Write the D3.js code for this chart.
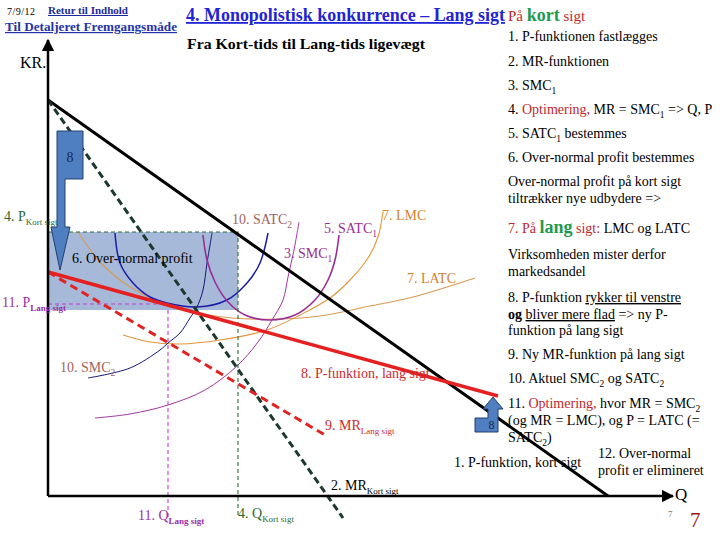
<!DOCTYPE html>
<html><head><meta charset="utf-8">
<script src="https://cdn.jsdelivr.net/npm/d3@7"></script>
<style>
body{margin:0;background:#fff;}
svg{display:block;}
text{font-family:"Liberation Serif","Times New Roman",serif;}
</style></head>
<body>
<svg id="c" width="720" height="540"></svg>
<script>
// ---- Data (Q = quantity units, P = price units) ----
const demandShort = [[0, 99], [112, 0]];            // 1. P-funktion, kort sigt
const mrShort     = [[0, 99], [59, -5.5]];          // 2. MR kort sigt
const demandLong  = [[0, 56], [90, 25]];            // 8. P-funktion, lang sigt
const mrLong      = [[0, 56], [55.4, 15.25]];       // 9. MR lang sigt
const satc2 = [[13.4,65.75],[14.4,58.25],[17,53.25],[20.4,49.75],[23.8,48.25],[29.8,47.25],[35.8,49],[39.8,53.25],[42.4,58.25],[44,65.75]];
const smc2  = [[8,29.5],[16.4,32],[22.4,36.5],[24,38.25],[26.4,40.75],[28.4,44.5],[29.8,47.25],[31,51.5],[31.8,58.25],[32.4,62.75],[32.8,65.75]];
const satc1 = [[31,65.25],[31.8,59],[33.4,53.5],[36,48.5],[39.4,45.25],[44.4,44],[49.4,45.25],[53.4,49],[56,54],[57.4,59],[58.2,65.25]];
const smc1  = [[9.4,19.5],[16.4,20.5],[24,22.75],[31.4,26.5],[37.8,32.5],[42,38.5],[44.8,44],[47,49],[48,54.75],[49.2,61.5],[50.2,68.5]];
const lmc   = [[15,40.25],[20.4,38.5],[26.4,38],[34.4,39],[43.8,41.5],[50.4,45.25],[56.4,49.5],[60.4,54],[64,59.5],[66,64.75],[67,71]];
const latc  = [[6,66],[10.4,58.5],[16.4,52.25],[24,47.75],[32.4,45.2],[42.4,44.2],[54.4,45],[64.4,47.5],[73,49.75],[85.4,54.5]];
const pShort = 66, qShort = 38, satcAtQShort = 46.5;
const pLong = 48, qLong = 24;
const axisQmax = 125, axisPmax = 114, axisPmin = -5.5;
// Shift arrows (decorative)
const arrowDown = [[1.8,91.25],[7,91.25],[7,79.25],[3.4,79.25],[3.4,67.25],[4.4,67.25],[2.4,56.5],[0.6,67.25],[1.8,67.25]];
const arrowUp   = [[85.4,19.5],[88,19.5],[88,21.75],[87,21.75],[89,24.75],[91,21.75],[90,21.75],[90,16],[85.4,16]];

const notes = [
  [41,  [{t:"1. P-funktionen fastlægges"}]],
  [66,  [{t:"2. MR-funktionen"}]],
  [90,  [{t:"3. SMC"},{t:"1",sub:1}]],
  [114, [{t:"4. "},{t:"Optimering,",c:"#c0282c"},{t:" MR = SMC"},{t:"1",sub:1},{t:" => Q, P"}]],
  [138, [{t:"5. SATC"},{t:"1",sub:1},{t:" bestemmes"}]],
  [162, [{t:"6. Over-normal profit bestemmes"}]],
  [186, [{t:"Over-normal profit på kort sigt"}]],
  [203, [{t:"tiltrækker nye udbydere =>"}]],
  [233, [{t:"7. På ",c:"#c0282c"},{t:"lang",c:"#1f9a4f",b:1,fs:18},{t:" sigt:",c:"#c0282c"},{t:"  LMC og LATC"}]],
  [259, [{t:"Virksomheden mister derfor"}]],
  [276, [{t:"markedsandel"}]],
  [302, [{t:"8. P-funktion "},{t:"rykker til venstre",u:1}]],
  [319, [{t:"og",b:1},{t:" "},{t:"bliver mere flad",u:1},{t:" => ny P-"}]],
  [335, [{t:"funktion på lang sigt"}]],
  [359, [{t:"9. Ny MR-funktion på lang sigt"}]],
  [383, [{t:"10. Aktuel SMC"},{t:"2",sub:1},{t:" og SATC"},{t:"2",sub:1}]],
  [408, [{t:"11. "},{t:"Optimering,",c:"#c0282c"},{t:" hvor MR = SMC"},{t:"2",sub:1}]],
  [425, [{t:"(og MR = LMC), og P = LATC (="}]],
  [442, [{t:"SATC"},{t:"2",sub:1},{t:")"}]]
];

// ---- Scales ----
const x = d3.scaleLinear().domain([0, 124.8]).range([48, 672]);
const y = d3.scaleLinear().domain([0, 100]).range([496, 96]);

const svg = d3.select("#c");
const line = d3.line().x(d=>x(d[0])).y(d=>y(d[1]));
const curve = d3.line().x(d=>x(d[0])).y(d=>y(d[1])).curve(d3.curveCatmullRom.alpha(0.5));

function rich(sel, segs, size){
  const t = sel;
  let shifted = false;
  segs.forEach(s=>{
    const sp = t.append("tspan").text(s.t);
    if (s.c) sp.attr("fill", s.c);
    if (s.b) sp.attr("font-weight","bold");
    if (s.u) sp.attr("text-decoration","underline");
    if (s.fs) sp.attr("font-size", s.fs);
    if (s.sub){
      sp.attr("font-size", s.subSize || size*0.68).attr("dy", shifted?0:4);
      if (s.sb) sp.attr("font-weight","bold");
      shifted = true;
    } else if (shifted){ sp.attr("dy",-4); shifted=false; }
  });
  return t;
}
function label(px, py, segs, color, size){
  size = size || 14;
  const t = svg.append("text").attr("x",px).attr("y",py).attr("font-size",size).attr("fill",color||"#000");
  rich(t, segs, size);
  return t;
}

// Over-normal profit rectangle
svg.append("rect")
  .attr("x", x(0)).attr("y", y(pShort))
  .attr("width", x(qShort)-x(0)).attr("height", y(satcAtQShort)-y(pShort))
  .attr("fill","#a6b9d8");

// Cost curves
svg.append("path").attr("d", curve(latc)).attr("fill","none").attr("stroke","#d99a52").attr("stroke-width",1.1);
svg.append("path").attr("d", curve(lmc)).attr("fill","none").attr("stroke","#e0963a").attr("stroke-width",1.1);
svg.append("path").attr("d", curve(satc2)).attr("fill","none").attr("stroke","#1c1ca8").attr("stroke-width",1.5);
svg.append("path").attr("d", curve(smc2)).attr("fill","none").attr("stroke","#16167a").attr("stroke-width",1);
svg.append("path").attr("d", curve(satc1)).attr("fill","none").attr("stroke","#9a2e96").attr("stroke-width",1.6);
svg.append("path").attr("d", curve(smc1)).attr("fill","none").attr("stroke","#a236a2").attr("stroke-width",1);

// Dashed guide lines
svg.append("path").attr("d", line([[0,pShort],[qShort,pShort],[qShort,axisPmin]]))
  .attr("fill","none").attr("stroke","#2d6a3a").attr("stroke-width",1.1).attr("stroke-dasharray","4,3");
svg.append("path").attr("d", line([[0,pLong],[qLong,pLong],[qLong,axisPmin]]))
  .attr("fill","none").attr("stroke","#c040d0").attr("stroke-width",1.1).attr("stroke-dasharray","4,3");

// Demand & MR
svg.append("path").attr("d", line(demandShort)).attr("fill","none").attr("stroke","#000").attr("stroke-width",3);
svg.append("path").attr("d", line(mrShort)).attr("fill","none").attr("stroke","#1c3a2c").attr("stroke-width",3).attr("stroke-dasharray","7,4");
svg.append("path").attr("d", line(mrLong)).attr("fill","none").attr("stroke","#e02424").attr("stroke-width",3).attr("stroke-dasharray","8,5");
svg.append("path").attr("d", line(demandLong)).attr("fill","none").attr("stroke","#e42020").attr("stroke-width",3.5);

// Axes
const defs = svg.append("defs");
defs.append("marker").attr("id","ah").attr("viewBox","0 0 10 10").attr("refX",9).attr("refY",5)
  .attr("markerWidth",5).attr("markerHeight",5).attr("orient","auto")
  .append("path").attr("d","M0,0 L10,5 L0,10 z").attr("fill","#000");
svg.append("line").attr("x1",x(0)).attr("y1",y(0)).attr("x2",x(0)).attr("y2",y(axisPmax))
  .attr("stroke","#000").attr("stroke-width",2.5).attr("marker-end","url(#ah)");
svg.append("line").attr("x1",x(0)).attr("y1",y(0)).attr("x2",x(axisQmax)).attr("y2",y(0))
  .attr("stroke","#000").attr("stroke-width",2.5).attr("marker-end","url(#ah)");

// Shift arrows
svg.append("path").attr("d", line(arrowDown)+"Z").attr("fill","#4f7fc0").attr("stroke","#23406e").attr("stroke-width",1);
svg.append("path").attr("d", line(arrowUp)+"Z").attr("fill","#4f7fc0").attr("stroke","#23406e").attr("stroke-width",1);
svg.append("text").attr("x",x(4.4)).attr("y",y(83.5)).attr("text-anchor","middle").attr("font-size",14).attr("fill","#1a2a50").text("8");
svg.append("text").attr("x",x(88.7)).attr("y",y(16.8)).attr("text-anchor","middle").attr("font-size",12).attr("fill","#1a2a50").text("8");

// Header
svg.append("text").attr("x",7).attr("y",15).attr("font-family","Liberation Sans, sans-serif").attr("font-size",10).attr("textLength",28).text("7/9/12");
svg.append("text").attr("x",48).attr("y",14).attr("font-family","Liberation Sans, sans-serif").attr("font-size",10).attr("font-weight","bold")
  .attr("fill","#1c2a9c").attr("text-decoration","underline").attr("textLength",80).attr("lengthAdjust","spacingAndGlyphs").text("Retur til Indhold");
svg.append("text").attr("x",5).attr("y",31).attr("font-family","Liberation Sans, sans-serif").attr("font-size",12).attr("font-weight","bold")
  .attr("fill","#2434a8").attr("text-decoration","underline").attr("textLength",172).attr("lengthAdjust","spacingAndGlyphs").text("Til Detaljeret Fremgangsmåde");
svg.append("text").attr("x",186).attr("y",21).attr("font-size",18).attr("font-weight","bold").attr("fill","#1f24d4")
  .attr("text-decoration","underline").attr("textLength",319).attr("lengthAdjust","spacingAndGlyphs").text("4. Monopolistisk konkurrence – Lang sigt");
label(508, 21, [{t:"På ",c:"#c0282c"},{t:"kort",c:"#1f9a4f",b:1,fs:18},{t:" sigt",c:"#c0282c"}], "#c0282c", 15);
svg.append("text").attr("x",187).attr("y",49).attr("font-size",15).attr("font-weight","bold")
  .attr("textLength",238).attr("lengthAdjust","spacingAndGlyphs").text("Fra Kort-tids til Lang-tids ligevægt");
svg.append("text").attr("x",20).attr("y",68).attr("font-size",16).text("KR.");

// Right notes
notes.forEach(([py, segs])=> label(508, py, segs, "#000", 14));
label(598, 458, [{t:"12. Over-normal"}], "#000", 14);
label(598, 475, [{t:"profit er elimineret"}], "#000", 14);
label(454, 467, [{t:"1. P-funktion, kort sigt"}], "#000", 14);
label(675, 500, [{t:"Q"}], "#000", 17);
svg.append("text").attr("x",668).attr("y",517).attr("font-family","Liberation Sans, sans-serif").attr("font-size",9).attr("fill","#777").text("7");
svg.append("text").attr("x",690).attr("y",527).attr("font-size",21).attr("fill","#9c1a1a").text("7");

// Chart labels
label(232, 224, [{t:"10. SATC"},{t:"2",sub:1}], "#a2625e", 14);
label(324, 233, [{t:"5. SATC"},{t:"1",sub:1}], "#9a2e96", 14);
label(382, 220, [{t:"7. LMC"}], "#d4832e", 14);
label(284, 258, [{t:"3. SMC"},{t:"1",sub:1}], "#9a2e96", 14);
label(407, 283, [{t:"7. LATC"}], "#d4832e", 14);
label(72, 263, [{t:"6. Over-normal profit"}], "#000", 14);
label(4, 221, [{t:"4. P"},{t:"Kort sigt",sub:1,subSize:9}], "#2d6a2d", 14);
label(2, 307, [{t:"11. P"},{t:"Lang sigt",sub:1,subSize:9,sb:1}], "#9a2ea8", 14);
label(60, 372, [{t:"10. SMC"},{t:"2",sub:1}], "#a2625e", 14);
label(301, 378, [{t:"8. P-funktion, lang sigt"}], "#cc2a2a", 14);
label(325, 430, [{t:"9. MR"},{t:"Lang sigt",sub:1,subSize:9}], "#cc2a2a", 14);
label(331, 490, [{t:"2. MR"},{t:"Kort sigt",sub:1,subSize:9}], "#000", 14);
label(138, 520, [{t:"11. Q"},{t:"Lang sigt",sub:1,subSize:9,sb:1}], "#9a2ea8", 14);
label(238, 518, [{t:"4. Q"},{t:"Kort sigt",sub:1,subSize:9}], "#2d6a2d", 14);
</script>
</body></html>
